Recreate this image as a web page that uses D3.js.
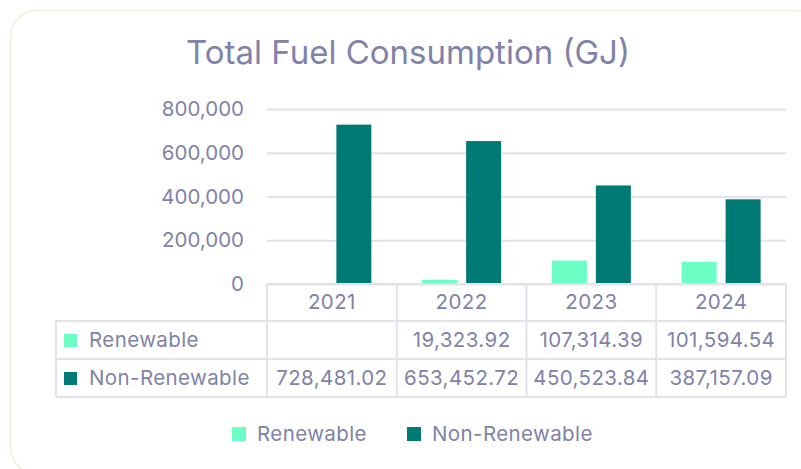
<!DOCTYPE html>
<html lang="en">
<head>
    <meta charset="UTF-8">
    <title>Total Fuel Consumption (GJ)</title>
    <script src="https://d3js.org/d3.v7.min.js"></script>
    <style>
        body {
            margin: 0;
            background: #fff;
            font-family: Inter, "Open Sans", sans-serif;
        }
        svg text {
            fill: #8182a8;
        }
        .lbl {
            font-size: 20.5px;
            letter-spacing: 0.4px;
        }
    </style>
</head>
<body>
    <svg id="chart" width="801" height="469"></svg>

    <script>
        // Data
        const years = ["2021", "2022", "2023", "2024"];
        const seriesNames = ["Renewable", "Non-Renewable"];
        const renewable = [null, 19323.92, 107314.39, 101594.54];
        const nonRenewable = [728481.02, 653452.72, 450523.84, 387157.09];
        const yTicks = [0, 200000, 400000, 600000, 800000];
        const colors = ["#6bffc5", "#007a74"];

        const seriesValues = [renewable, nonRenewable];
        const gridColor = "#e3e2eb";

        const svg = d3.select("#chart");

        // Card frame
        svg.append("rect")
            .attr("x", 10.5).attr("y", 10.5)
            .attr("width", 812).attr("height", 463)
            .attr("rx", 26)
            .attr("fill", "#fff")
            .attr("stroke", "#f2eedd")
            .attr("stroke-width", 1.5);

        // Title
        svg.append("text")
            .attr("x", 408).attr("y", 64)
            .attr("text-anchor", "middle")
            .style("font-size", "33px")
            .text("Total Fuel Consumption (GJ)");

        // Scales
        const plotLeft = 267, plotRight = 786, plotTop = 109, plotBottom = 284;
        const x = d3.scaleBand().domain(years).range([plotLeft, plotRight]);
        const xInner = d3.scaleBand().domain(seriesNames)
            .range([0, x.bandwidth()])
            .paddingInner(0.2045)
            .paddingOuter(0.577);
        const y = d3.scaleLinear().domain([0, 800000]).range([plotBottom, plotTop]);

        // Gridlines + y axis labels
        const yAxis = svg.append("g")
            .attr("transform", `translate(${plotLeft},0)`)
            .call(d3.axisLeft(y).tickValues(yTicks)
                .tickSize(-(plotRight - plotLeft))
                .tickPadding(23)
                .tickFormat(d3.format(",")));
        yAxis.select(".domain").remove();
        yAxis.selectAll(".tick line")
            .attr("stroke", gridColor)
            .attr("stroke-width", 2);
        yAxis.selectAll(".tick text")
            .attr("fill", null)
            .style("font-size", "20.5px")
            .style("font-family", "Inter, sans-serif");

        // Bars
        seriesNames.forEach((name, si) => {
            svg.append("g")
                .selectAll("rect")
                .data(years.map((yr, i) => ({ yr, v: seriesValues[si][i] })).filter(d => d.v != null))
                .join("rect")
                .attr("x", d => x(d.yr) + xInner(name))
                .attr("y", d => y(d.v))
                .attr("width", xInner.bandwidth())
                .attr("height", d => y(0) - y(d.v))
                .attr("fill", colors[si]);
        });

        // Data table
        const tableLeft = 56;
        const rowY = [284, 321, 359, 397];
        const table = svg.append("g")
            .attr("stroke", gridColor)
            .attr("stroke-width", 2)
            .attr("fill", "none");

        // horizontal lines
        table.append("line")
            .attr("x1", plotLeft).attr("x2", plotRight)
            .attr("y1", rowY[0]).attr("y2", rowY[0]);
        rowY.slice(1).forEach(ry => {
            table.append("line")
                .attr("x1", tableLeft).attr("x2", plotRight)
                .attr("y1", ry).attr("y2", ry);
        });
        // vertical lines
        table.append("line")
            .attr("x1", tableLeft).attr("x2", tableLeft)
            .attr("y1", rowY[1]).attr("y2", rowY[3]);
        years.forEach(yr => {
            table.append("line")
                .attr("x1", x(yr)).attr("x2", x(yr))
                .attr("y1", rowY[0]).attr("y2", rowY[3]);
        });
        table.append("line")
            .attr("x1", plotRight).attr("x2", plotRight)
            .attr("y1", rowY[0]).attr("y2", rowY[3]);

        // header text
        svg.append("g")
            .selectAll("text")
            .data(years)
            .join("text")
            .attr("class", "lbl")
            .attr("x", d => x(d) + x.bandwidth() / 2)
            .attr("y", (rowY[0] + rowY[1]) / 2 + 1)
            .attr("text-anchor", "middle")
            .attr("dominant-baseline", "middle")
            .text(d => d);

        const fmt = d3.format(",.2f");
        seriesNames.forEach((name, si) => {
            const cy = (rowY[si + 1] + rowY[si + 2]) / 2 + 1;
            svg.append("rect")
                .attr("x", 64).attr("y", cy - 7)
                .attr("width", 13).attr("height", 13)
                .attr("fill", colors[si]);
            svg.append("text")
                .attr("class", "lbl")
                .attr("x", 89).attr("y", cy)
                .attr("dominant-baseline", "middle")
                .text(name);
            svg.append("g")
                .selectAll("text")
                .data(years.map((yr, i) => ({ yr, v: seriesValues[si][i] })).filter(d => d.v != null))
                .join("text")
                .attr("class", "lbl")
                .attr("x", d => x(d.yr) + x.bandwidth() / 2)
                .attr("y", cy)
                .attr("text-anchor", "middle")
                .attr("dominant-baseline", "middle")
                .text(d => fmt(d.v));
        });

        // Legend
        const legendX = [232, 407];
        const legend = svg.append("g");
        seriesNames.forEach((name, si) => {
            legend.append("rect")
                .attr("x", legendX[si]).attr("y", 427)
                .attr("width", 14).attr("height", 14)
                .attr("fill", colors[si]);
            legend.append("text")
                .attr("class", "lbl")
                .attr("x", legendX[si] + 25).attr("y", 435)
                .attr("dominant-baseline", "middle")
                .text(name);
        });
    </script>
</body>
</html>
